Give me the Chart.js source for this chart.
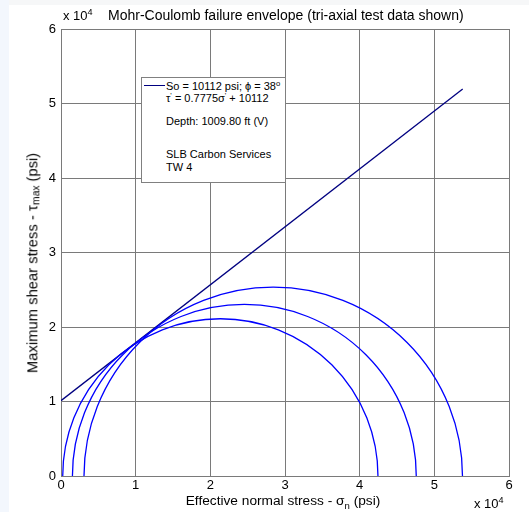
<!DOCTYPE html>
<html>
<head>
<meta charset="utf-8">
<script src="https://cdn.jsdelivr.net/npm/chart.js@4"></script>
<style>
  html, body { margin: 0; padding: 0; background: #fff; }
  #wrap { position: relative; width: 529px; height: 512px; overflow: hidden;
          font-family: "Liberation Sans", Arial, sans-serif; color: #000; }
  #stripe { position: absolute; left: 0; top: 0; width: 9px; height: 512px; background: #f3f7fd; }
  #topband { position: absolute; left: 0; top: 0; width: 529px; height: 5px; background: #f6f7f8; }
  canvas { position: absolute; left: 0; top: 0; }
  .txt { position: absolute; white-space: nowrap; line-height: 1; }
  #legend { position: absolute; left: 141px; top: 77px; width: 143px; height: 104px;
            border: 1px solid #808080; background: #fff; font-size: 11px; }
  #legend .row { position: absolute; left: 24px; white-space: nowrap; line-height: 1; }
  #legend .sample { position: absolute; left: 2px; top: 7px; width: 21px; height: 0;
                    border-top: 1.3px solid #000080; }
  sup { font-size: 70%; vertical-align: 0; position: relative; top: -0.5em; }
  sub { font-size: 70%; vertical-align: 0; position: relative; top: 0.4em; }
  #ytitle { writing-mode: vertical-rl; transform: translate(-50%,-50%) rotate(180deg); }
  #ytitle sub { top: 0; left: -0.4em; }
</style>
</head>
<body>
<div id="wrap">
  <div id="topband"></div>
  <div id="stripe"></div>
  <canvas id="chart" width="529" height="512"></canvas>
  <div class="txt" id="title" style="left:108px; top:8px; font-size:14px;">Mohr-Coulomb failure envelope (tri-axial test data shown)</div>
  <div class="txt" style="left:63px; top:9px; font-size:13px;">x 10<sup>4</sup></div>
  <div class="txt" style="left:474px; top:497px; font-size:13px;">x 10<sup>4</sup></div>
  <div class="txt" id="xtitle" style="left:283px; top:501px; font-size:13.7px; transform: translate(-50%,-50%);">Effective normal stress - &sigma;<sub>n</sub> (psi)</div>
  <div class="txt" id="ytitle" style="left:33px; top:263px; font-size:14.8px;">Maximum shear stress - &tau;<sub>max</sub>&nbsp;(psi)</div>
  <div id="legend">
    <div class="sample"></div>
    <div class="row" id="leg1" style="top:3px;"></div>
    <div class="row" id="leg2" style="top:15px;"></div>
    <div class="row" id="leg3" style="top:38px;"></div>
    <div class="row" id="leg4" style="top:71px;"></div>
    <div class="row" id="leg5" style="top:84px;">TW 4</div>
  </div>
</div>
<script>
// tri-axial test results (psi): minor / major effective principal stress
const sigma3 = [230, 1530, 3080];
const sigma1 = [42450, 47580, 53770];

// failure envelope end points
const envelopeX = [0, 53800];
const envelopeY = [10112, 51942];

const cohesion = 10112;
const frictionAngle = 38;
const slope = 0.7775;
const depth = "1009.80 ft (V)";
const company = "SLB Carbon Services";

const tickValues = [0, 10000, 20000, 30000, 40000, 50000, 60000];
const tickLabels = ["0", "1", "2", "3", "4", "5", "6"];

document.getElementById("leg1").innerHTML =
  "So = " + cohesion + " psi; &#981; = " + frictionAngle + "<sup>o</sup>";
document.getElementById("leg2").innerHTML =
  "&tau;<sup>'</sup> = " + slope + "&sigma;<sup>'</sup> + " + cohesion;
document.getElementById("leg3").textContent = "Depth: " + depth;
document.getElementById("leg4").textContent = company;

// Mohr circles drawn as half ellipses through the chart scales
const mohrCircles = {
  id: "mohrCircles",
  afterDatasetsDraw(chart) {
    const { ctx, chartArea, scales } = chart;
    ctx.save();
    ctx.beginPath();
    ctx.rect(chartArea.left, chartArea.top, chartArea.width, chartArea.height);
    ctx.clip();
    ctx.strokeStyle = "#0000ff";
    ctx.lineWidth = 1.3;
    sigma3.forEach((s3, i) => {
      const c = (s3 + sigma1[i]) / 2;
      const r = (sigma1[i] - s3) / 2;
      const cx = scales.x.getPixelForValue(c);
      const cy = scales.y.getPixelForValue(0);
      const rx = scales.x.getPixelForValue(c + r) - cx;
      const ry = cy - scales.y.getPixelForValue(r);
      ctx.beginPath();
      ctx.ellipse(cx, cy, rx, ry, 0, Math.PI, 2 * Math.PI);
      ctx.stroke();
    });
    ctx.restore();
  }
};

const tickFont = { family: "'Liberation Sans', Arial, sans-serif", size: 13 };

new Chart(document.getElementById("chart"), {
  type: "scatter",
  data: {
    datasets: [{
      data: envelopeX.map((x, i) => ({ x: x, y: envelopeY[i] })),
      showLine: true,
      borderColor: "#000080",
      borderWidth: 1.3,
      pointRadius: 0,
      fill: false
    }]
  },
  options: {
    responsive: false,
    animation: false,
    events: [],
    layout: { padding: { left: 0, top: 29, right: 20, bottom: 0 } },
    plugins: { legend: { display: false }, tooltip: { enabled: false }, title: { display: false } },
    scales: {
      x: {
        type: "linear",
        min: 0,
        max: 60000,
        afterBuildTicks: s => { s.ticks = tickValues.map(v => ({ value: v })); },
        afterFit: s => { s.height = 36; },
        ticks: {
          color: "#000",
          font: tickFont,
          padding: 2,
          maxRotation: 0,
          callback: v => tickLabels[tickValues.indexOf(v)]
        },
        grid: { color: "#7a7a7a", lineWidth: 1, drawTicks: false },
        border: { color: "#7a7a7a" }
      },
      y: {
        type: "linear",
        min: 0,
        max: 60000,
        afterBuildTicks: s => { s.ticks = tickValues.map(v => ({ value: v })); },
        afterFit: s => { s.width = 61; },
        ticks: {
          color: "#000",
          font: tickFont,
          padding: 5,
          callback: v => tickLabels[tickValues.indexOf(v)]
        },
        grid: { color: "#7a7a7a", lineWidth: 1, drawTicks: false },
        border: { color: "#7a7a7a" }
      }
    }
  },
  plugins: [mohrCircles]
});
</script>
</body>
</html>
